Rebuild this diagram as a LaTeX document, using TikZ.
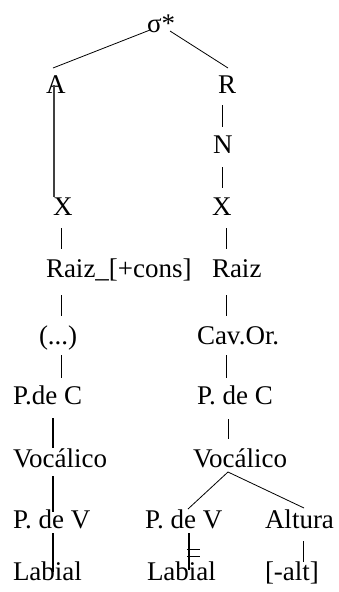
\documentclass[tikz,border=0pt]{standalone}
\usepackage{fontspec}
\setmainfont{Liberation Serif}
\begin{document}
\begin{tikzpicture}[x=1pt,y=-1pt,
  lbl/.style={anchor=base west,inner sep=0pt,outer sep=0pt,font=\fontsize{27}{31}\selectfont},
  thin/.style={line width=0.8pt},
  thick/.style={line width=1.5pt}]
\useasboundingbox (0,0) rectangle (338,592);
% nodes
\node[lbl] (sig) at (147,32) {σ*};
\node[lbl] (A) at (46,93) {A};
\node[lbl] (R) at (218,93) {R};
\node[lbl] (N) at (213,153) {N};
\node[lbl] (XL) at (53,215) {X};
\node[lbl] (XR) at (212,215) {X};
\node[lbl] (RaizL) at (46,277) {Raiz\_[+cons]};
\node[lbl] (RaizR) at (212,277) {Raiz};
\node[lbl] (dots) at (39,344) {(...)};
\node[lbl] (cav) at (197,344) {Cav.Or.};
\node[lbl] (pcL) at (13,404) {P.de C};
\node[lbl] (pcR) at (197,404) {P. de C};
\node[lbl] (vocL) at (13,467) {Vocálico};
\node[lbl] (vocR) at (193,467) {Vocálico};
\node[lbl] (pvL) at (13,528) {P. de V};
\node[lbl] (pvR) at (145,528) {P. de V};
\node[lbl] (alt) at (265,528) {Altura};
\node[lbl] (labL) at (13,580) {Labial};
\node[lbl] (labR) at (147,580) {Labial};
\node[lbl] (minalt) at (265,580) {[-alt]};
% connectors
\draw[thin] ([xshift=3pt,yshift=2pt]sig.base west) -- ([xshift=7pt,yshift=25pt]A.base west);
\draw[thin] ([xshift=23pt,yshift=1pt]sig.base west) -- ([xshift=10pt,yshift=25pt]R.base west);
\draw[line width=1.3pt,black!75] ([xshift=8pt,yshift=8pt]A.base west) -- ([xshift=1pt,yshift=18pt]XL.base west);
\draw[thin] ([xshift=4pt,yshift=-12pt]R.base west) -- ([xshift=9pt,yshift=26pt]N.base west);
\draw[thin] ([xshift=9pt,yshift=-14pt]N.base west) -- ([xshift=10pt,yshift=27pt]XR.base west);
\draw[thin] ([xshift=8pt,yshift=-13pt]XL.base west) -- ([xshift=15pt,yshift=28pt]RaizL.base west);
\draw[thin] ([xshift=14pt,yshift=-13pt]XR.base west) -- ([xshift=14pt,yshift=28pt]RaizR.base west);
\draw[thin] ([xshift=15pt,yshift=-18pt]RaizL.base west) -- ([xshift=22pt,yshift=28pt]dots.base west);
\draw[thin] ([xshift=14pt,yshift=-18pt]RaizR.base west) -- ([xshift=29pt,yshift=28pt]cav.base west);
\draw[thin] ([xshift=22pt,yshift=-11pt]dots.base west) -- ([xshift=48pt,yshift=26pt]pcL.base west);
\draw[thin] ([xshift=29pt,yshift=-11pt]cav.base west) -- ([xshift=29pt,yshift=26pt]pcR.base west);
\draw[thick] ([xshift=40pt,yshift=-14pt]pcL.base west) -- ([xshift=40pt,yshift=19pt]vocL.base west);
\draw[thin] ([xshift=31pt,yshift=-15pt]pcR.base west) -- ([xshift=35pt,yshift=28pt]vocR.base west);
\draw[thick] ([xshift=40pt,yshift=-9pt]vocL.base west) -- ([xshift=40pt,yshift=16pt]pvL.base west);
\draw[thin] ([xshift=35pt,yshift=-5pt]vocR.base west) -- ([xshift=43pt,yshift=19pt]pvR.base west);
\draw[thin] ([xshift=35pt,yshift=-5pt]vocR.base west) -- ([xshift=39pt,yshift=20pt]alt.base west);
\draw[thick] ([xshift=40pt,yshift=-5pt]pvL.base west) -- ([xshift=40pt,yshift=8pt]labL.base west);
\draw[thick] ([xshift=44pt,yshift=-5pt]pvR.base west) -- ([xshift=42pt,yshift=10pt]labR.base west);
\draw[thin] ([xshift=40pt,yshift=31pt]labR.base west) -- ([xshift=53pt,yshift=31pt]labR.base west);
\draw[thin] ([xshift=40pt,yshift=24pt]labR.base west) -- ([xshift=53pt,yshift=24pt]labR.base west);
\draw[thin] ([xshift=38pt,yshift=-13pt]alt.base west) -- ([xshift=38pt,yshift=18pt]minalt.base west);
\end{tikzpicture}
\end{document}
